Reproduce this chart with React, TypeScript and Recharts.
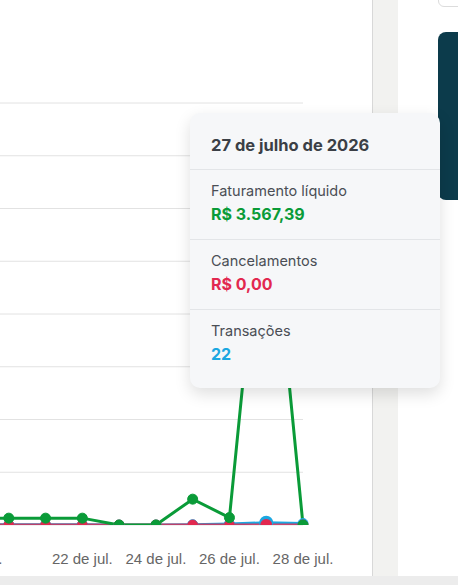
import { LineChart, Line, XAxis, YAxis, CartesianGrid, Tooltip } from 'recharts';

// dias de julho/2026 (o primeiro fica fora da área visível)
const dias = [19, 20, 21, 22, 23, 24, 25, 26, 27, 28];
const faturamento = [65, 65, 65, 65, 0, 0, 245, 70, 3567.39, 0];
const cancelamentos = [0, 0, 0, 0, 0, 0, 0, 0, 0, 0];
const transacoes = [2, 2, 2, 2, 0, 0, 3, 9, 22, 14];

const xTicks = ['19 de jul.', '22 de jul.', '24 de jul.', '26 de jul.', '28 de jul.'];
const yTicks = [0, 500, 1000, 1500, 2000, 2500, 3000, 3500, 4000];

const data = dias.map((d, i) => ({
    dia: `${d} de jul.`,
    titulo: `${d} de julho de 2026`,
    faturamento: faturamento[i],
    cancelamentos: cancelamentos[i],
    transacoes: transacoes[i],
}));

const VERDE = '#0a9b38';
const VERMELHO = '#e2284f';
const AZUL = '#1ba7e1';

const brl = (v: number) => {
    const [int, dec] = v.toFixed(2).split('.');
    return `R$ ${int.replace(/\B(?=(\d{3})+(?!\d))/g, '.')},${dec}`;
};

const sans = 'Inter, "Noto Sans", sans-serif';

function Secao({ label, value, color, last }: { label: string, value: string, color: string, last?: boolean }) {
    return (
        <div style={{ padding: last ? '11px 21px 24px' : '11px 21px 15px', borderTop: '1px solid #e3e5e8' }}>
            <div style={{ fontSize: 14.5, lineHeight: '20px', color: '#4a4e55' }}>{label}</div>
            <div style={{ fontSize: 16, lineHeight: '20px', fontWeight: 700, color, marginTop: 3 }}>{value}</div>
        </div>
    );
}

function Detalhe({ active, payload }: any) {
    if (!active || !payload || !payload.length) return null;
    const p = payload[0].payload;
    return (
        <div style={{
            width: 250,
            background: '#f6f7f9',
            borderRadius: 10,
            boxShadow: '0 6px 16px rgba(0,0,0,0.13)',
            fontFamily: sans,
        }}>
            <div style={{ padding: '22px 21px 14px', fontSize: 16.5, lineHeight: '20px', fontWeight: 700, color: '#3b3f46' }}>
                {p.titulo}
            </div>
            <Secao label="Faturamento líquido" value={brl(p.faturamento)} color={VERDE} />
            <Secao label="Cancelamentos" value={brl(p.cancelamentos)} color={VERMELHO} />
            <Secao label="Transações" value={String(p.transacoes)} color={AZUL} last />
        </div>
    );
}

export default function App() {
    return (
        <div style={{ position: 'fixed', left: 0, top: 0, width: 458, height: 585, overflow: 'hidden', background: '#fff' }}>
            <div style={{ position: 'absolute', left: -28, top: 93 }}>
                <LineChart width={371} height={482} data={data} margin={{ top: 10, right: 40, left: 0, bottom: 0 }}>
                    <CartesianGrid stroke="#e2e2e2" vertical={false} />
                    <XAxis
                        dataKey="dia"
                        ticks={xTicks}
                        interval={0}
                        height={50}
                        tickLine={false}
                        axisLine={false}
                        tickMargin={22}
                        tick={{ fill: '#666', fontSize: 15, fontFamily: '"Liberation Sans", Arial, sans-serif' }}
                    />
                    <YAxis hide domain={[0, 4000]} ticks={yTicks} allowDataOverflow />
                    <Tooltip
                        content={<Detalhe />}
                        defaultIndex={8}
                        position={{ x: 218, y: 20 }}
                        cursor={false}
                        isAnimationActive={false}
                        wrapperStyle={{ zIndex: 10, outline: 'none' }}
                    />
                    <Line
                        dataKey="transacoes"
                        stroke={AZUL}
                        strokeWidth={3}
                        dot={{ r: 5, fill: AZUL, stroke: AZUL, strokeWidth: 1 }}
                        activeDot={{ r: 6, fill: AZUL, stroke: AZUL }}
                        isAnimationActive={false}
                    />
                    <Line
                        dataKey="cancelamentos"
                        stroke={VERMELHO}
                        strokeOpacity={0.8}
                        strokeWidth={3}
                        dot={{ r: 5, fill: VERMELHO, stroke: VERMELHO, strokeWidth: 1 }}
                        activeDot={{ r: 5, fill: VERMELHO, stroke: VERMELHO }}
                        isAnimationActive={false}
                    />
                    <Line
                        dataKey="faturamento"
                        stroke={VERDE}
                        strokeWidth={3}
                        dot={{ r: 5, fill: VERDE, stroke: VERDE, strokeWidth: 1 }}
                        activeDot={{ r: 6, fill: VERDE, stroke: VERDE }}
                        isAnimationActive={false}
                    />
                </LineChart>
            </div>

            {/* painel lateral */}
            <div style={{ position: 'absolute', left: 372, top: 0, width: 25, height: 576, background: '#f2f2f0', borderLeft: '1px solid #d8d8d8' }} />
            <div style={{ position: 'absolute', left: 438, top: -10, width: 40, height: 15, border: '1px solid #dcdcdc', borderRadius: 6 }} />
            <div style={{ position: 'absolute', left: 438, top: 32, width: 40, height: 168, background: '#0c3b4b', borderRadius: 8 }} />
            <div style={{ position: 'absolute', left: 0, top: 576, width: 458, height: 9, background: '#ececec' }} />
        </div>
    );
}
